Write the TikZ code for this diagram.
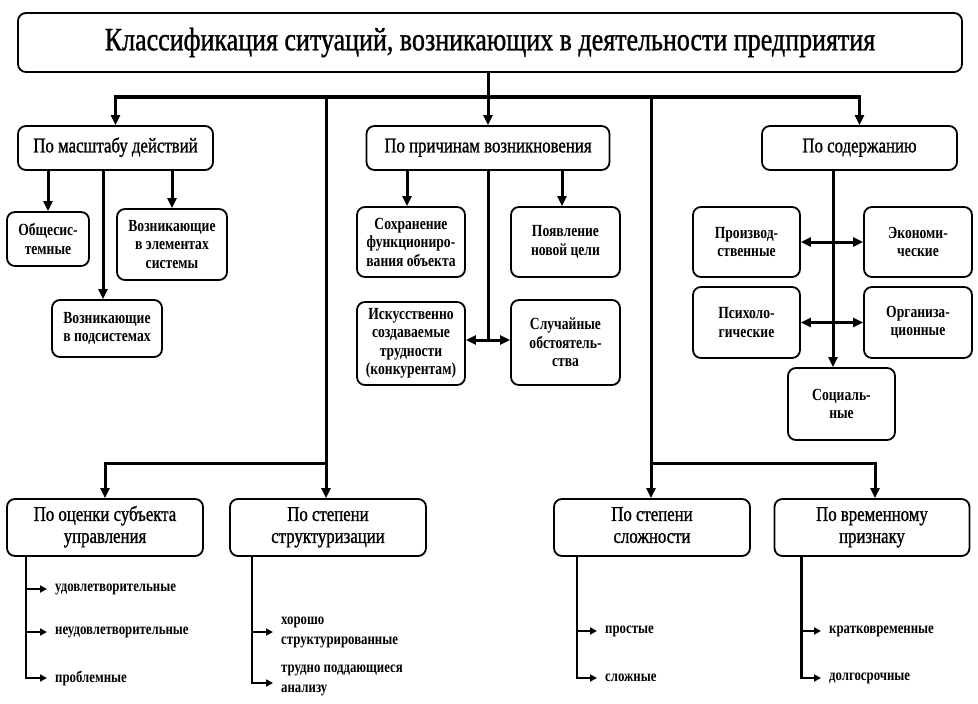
\documentclass[tikz,border=0pt]{standalone}
\usepackage{fontspec}
\setmainfont{Liberation Serif}
\newfontfamily\cf[FakeStretch=0.8]{Liberation Serif}
\newfontfamily\cfh[FakeStretch=0.8,FakeBold=1]{Liberation Serif}
\usetikzlibrary{arrows.meta,calc}
\begin{document}
\begin{tikzpicture}[x=1pt,y=-1pt,
 box/.style={draw=black, line width=1.8pt, rounded corners=8pt, fill=white, align=center, inner sep=0pt},
 lone/.style={box, font=\cfh\fontsize{21}{22}\selectfont},
 sub/.style={box, font=\cf\bfseries\fontsize{17}{18.5}\selectfont},
 item/.style={anchor=west, inner xsep=8pt, inner ysep=0pt, align=left, font=\cf\bfseries\fontsize{16}{20}\selectfont},
 arr/.style={line width=3pt, -{Triangle[length=10pt,width=9pt]}},
 darr/.style={line width=3pt, {Triangle[length=10pt,width=9pt]}-{Triangle[length=10pt,width=9pt]}},
 larr/.style={line width=2.5pt, -{Triangle[length=7pt,width=7pt]}},
 lline/.style={line width=3pt}
]
\useasboundingbox (0,0) rectangle (978,704);
% title and first level
\node[box, minimum width=944pt, minimum height=59pt, font=\cfh\fontsize{32.5}{36}\selectfont] (title) at (490,42.5) {Классификация ситуаций, возникающих в деятельности предприятия};
\node[lone, minimum width=195pt, minimum height=44pt] (ms) at (115.5,148) {\strut По масштабу действий};
\node[lone, minimum width=243pt, minimum height=44pt] (pr) at (488,148) {\strut По причинам возникновения};
\node[lone, minimum width=195pt, minimum height=44pt] (sod) at (859.5,148) {\strut По содержанию};
% left group
\node[sub, minimum width=82pt, minimum height=54pt] (obsh) at (48,239) {Общесис-\\темные};
\node[sub, minimum width=110pt, minimum height=71pt] (elem) at (172,244.5) {Возникающие\\в элементах\\системы};
\node[sub, minimum width=110pt, minimum height=57pt] (podsys) at (107,328.5) {Возникающие\\в подсистемах};
% center group
\node[sub, minimum width=108pt, minimum height=70pt] (sohr) at (411,242) {Сохранение\\функциониро-\\вания объекта};
\node[sub, minimum width=109pt, minimum height=70pt] (poyav) at (565.5,242) {Появление\\новой цели};
\node[sub, minimum width=108pt, minimum height=83pt] (isk) at (411,343.5) {Искусственно\\создаваемые\\трудности\\(конкурентам)};
\node[sub, minimum width=109pt, minimum height=85pt] (sluch) at (565.5,342.5) {Случайные\\обстоятель-\\ства};
% right group
\node[sub, minimum width=107pt, minimum height=70pt] (proizv) at (746.5,242) {Производ-\\ственные};
\node[sub, minimum width=108pt, minimum height=70pt] (ekon) at (918,242) {Экономи-\\ческие};
\node[sub, minimum width=107pt, minimum height=71pt] (psih) at (746.5,322.5) {Психоло-\\гические};
\node[sub, minimum width=108pt, minimum height=71pt] (org) at (918,322.5) {Организа-\\ционные};
\node[sub, minimum width=107pt, minimum height=72pt] (soc) at (841.5,404) {Социаль-\\ные};
% bottom first level
\node[lone, minimum width=196pt, minimum height=57pt] (ocen) at (105,527.5) {\strut По оценки субъекта\\\strut управления};
\node[lone, minimum width=196pt, minimum height=57pt] (struct) at (328,527.5) {\strut По степени\\\strut структуризации};
\node[lone, minimum width=196pt, minimum height=57pt] (slozh) at (652,527.5) {\strut По степени\\\strut сложности};
\node[lone, minimum width=195pt, minimum height=57pt] (vrem) at (872,527.5) {\strut По временному\\\strut признаку};
% list items
\node[item] (u1) at (47,589) {удовлетворительные};
\node[item] (u2) at (47,632) {неудовлетворительные};
\node[item] (u3) at (47,678) {проблемные};
\node[item] (h1) at (273,632) {хорошо\\структурированные};
\node[item] (h2) at (273,680) {трудно поддающиеся\\анализу};
\node[item] (p1) at (597,631) {простые};
\node[item] (p2) at (597,678) {сложные};
\node[item] (k1) at (821,631) {кратковременные};
\node[item] (k2) at (821,678) {долгосрочные};
% coordinates
\coordinate (busy) at (488,97);
\coordinate (lowy) at (488,463);
\coordinate (mid) at (488,340);
\coordinate (sp1) at ([xshift=20pt]ocen.south west);
\coordinate (sp2) at ([xshift=23pt]struct.south west);
\coordinate (sp3) at ([xshift=24pt]slozh.south west);
\coordinate (sp4) at ([xshift=28pt]vrem.south west);
% top bus
\draw[darr, line width=3.6pt] (ms.north) -- (ms.north |- busy) -- (sod.north |- busy) -- (sod.north);
\draw[arr] (title.south -| pr.north) -- (pr.north);
\draw[arr] ([xshift=-2pt]struct.north |- busy) -- ([xshift=-2pt]struct.north);
\draw[arr] ([xshift=-1pt]slozh.north |- busy) -- ([xshift=-1pt]slozh.north);
% lower buses
\draw[arr] ([xshift=-2pt]struct.north |- lowy) -- (ocen.north |- lowy) -- (ocen.north);
\draw[arr] ([xshift=-1pt]slozh.north |- lowy) -- ([xshift=3pt]vrem.north |- lowy) -- ([xshift=3pt]vrem.north);
% left group connectors
\draw[arr] (obsh.north |- ms.south) -- (obsh.north);
\draw[arr] (elem.north |- ms.south) -- (elem.north);
\draw[arr] ([xshift=-4pt]podsys.north |- ms.south) -- ([xshift=-4pt]podsys.north);
% center group connectors
\draw[arr] ([xshift=-4pt]sohr.north |- pr.south) -- ([xshift=-4pt]sohr.north);
\draw[arr] ([xshift=-3.5pt]poyav.north |- pr.south) -- ([xshift=-3.5pt]poyav.north);
\draw[lline] (pr.south) -- (mid);
\draw[darr] (isk.east |- mid) -- (sluch.west |- mid);
% right group connectors
\draw[arr] ([xshift=-8.5pt]soc.north |- sod.south) -- ([xshift=-8.5pt]soc.north);
\draw[darr] (proizv.east) -- (ekon.west);
\draw[darr] (psih.east) -- (org.west);
% lists
\draw[larr] (sp1) |- (u3.west);
\draw[larr] (sp1 |- u1.west) -- (u1.west);
\draw[larr] (sp1 |- u2.west) -- (u2.west);
\draw[larr] (sp2) |- ([yshift=-3pt]h2.west);
\draw[larr] (sp2 |- h1.west) -- (h1.west);
\draw[larr] (sp3) |- (p2.west);
\draw[larr] (sp3 |- p1.west) -- (p1.west);
\draw[larr] (sp4) |- (k2.west);
\draw[larr] (sp4 |- k1.west) -- (k1.west);
\end{tikzpicture}
\end{document}
